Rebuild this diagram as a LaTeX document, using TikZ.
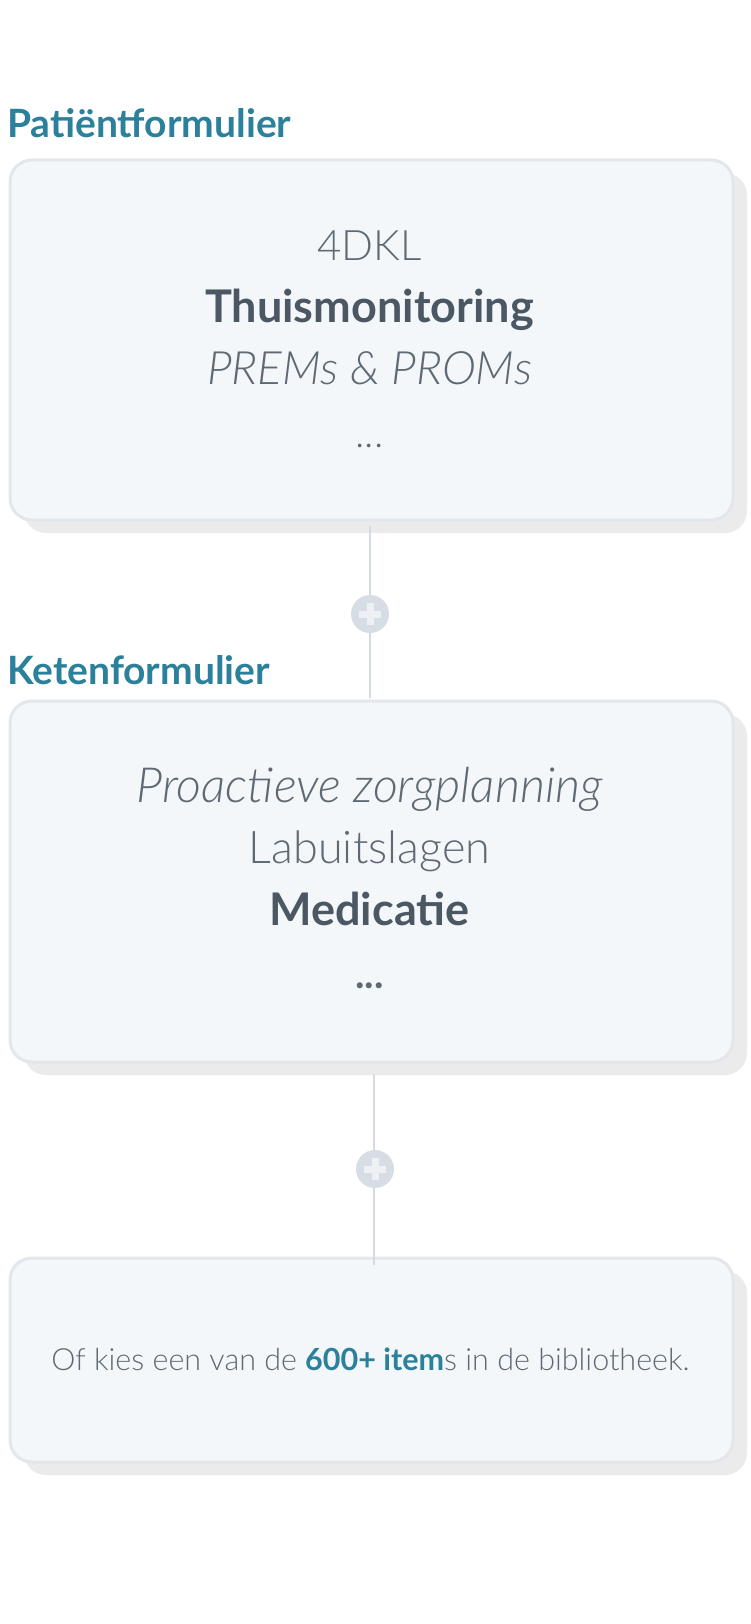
\documentclass[tikz,border=0pt]{standalone}
\usepackage{fontspec}
\setmainfont{Lato}[UprightFont={* Regular},BoldFont={* Bold}]
\newfontfamily\lightfont{Lato}[UprightFont={* Light},ItalicFont={* Light Italic},BoldFont={* Bold}]
\newfontfamily\dotfont{Lato}[UprightFont={* Light},BoldFont={* Bold}]
\usetikzlibrary{shadows}
\definecolor{teal}{HTML}{2B809C}
\definecolor{txt}{HTML}{4B5762}
\definecolor{txtlight}{HTML}{5E6973}
\definecolor{cardfill}{HTML}{F4F7FA}
\definecolor{cardborder}{HTML}{E3E7EB}
\definecolor{shadowgray}{HTML}{EBEBEB}
\definecolor{connc}{HTML}{D4DAE1}
\definecolor{plusbg}{HTML}{D6DDE4}
\definecolor{plusfg}{HTML}{EEF1F4}
\begin{document}
\begin{tikzpicture}[x=1pt,y=-1pt,
  card/.style={draw=cardborder, line width=3pt, fill=cardfill, rounded corners=22pt,
    minimum width=723pt, inner sep=0pt, anchor=north west,
    drop shadow={shadow xshift=14pt, shadow yshift=-13pt, fill=shadowgray, opacity=1, draw=none}},
  title/.style={anchor=base west, inner sep=0pt, text=teal, font=\fontsize{39}{44}\selectfont\bfseries},
  line/.style={anchor=base, inner sep=0pt, text=txtlight, font=\lightfont\fontsize{45}{52}\selectfont},
  iline/.style={line, font=\lightfont\fontsize{47}{54}\selectfont\itshape},
  bline/.style={anchor=base, inner sep=0pt, text=txt, font=\fontsize{45}{52}\selectfont\bfseries},
  dots/.style={anchor=base, inner sep=0pt, text=txtlight, font=\dotfont\fontsize{40}{48}\selectfont},
  conn/.style={draw=connc, line width=2pt},
  plus/.style={circle, fill=plusbg, minimum size=38pt, inner sep=0pt,
    path picture={\draw[plusfg, line width=7pt] (path picture bounding box.center) +(-11pt,0) -- +(11pt,0)
      (path picture bounding box.center) +(0,-11pt) -- +(0,11pt);}}
]
\useasboundingbox[fill=white] (0,0) rectangle (750,1624);

% titles
\node[title] (ttl1) at (7,138) {Patiëntformulier};
\node[title] (ttl2) at (7,684) {Ketenformulier};

% cards
\node[card, minimum height=360pt] (box1) at (8.5,158.5) {};
\node[card, minimum height=361pt] (box2) at (8.5,699.5) {};
\node[card, minimum height=204pt] (box3) at (8.5,1256.5) {};

% connectors
\coordinate (c1a) at (370,526);
\coordinate (c1b) at (370,698);
\coordinate (c2a) at (374,1074);
\coordinate (c2b) at (374,1265);
\draw[conn] (c1a) -- (c1b);
\draw[conn] (c2a) -- (c2b);
\node[plus] (plus1) at (370,614) {};
\node[plus] (plus2) at (375,1169) {};

% box 1 text
\node[line, font=\lightfont\fontsize{42}{50}\selectfont] (t11) at (369.5,260) {4DKL};
\node[bline] (t12) at (369.5,322) {Thuismonitoring};
\node[iline, font=\lightfont\fontsize{46}{54}\selectfont\itshape] (t13) at (369.5,384) {PREMs \& PROMs};
\node[dots] (t14) at (369.5,447) {...};

% box 2 text
\node[iline, font=\lightfont\fontsize{48.5}{56}\selectfont\itshape] (t21) at (369.5,802) {Proactieve zorgplanning};
\node[line] (t22) at (369.5,863) {Labuitslagen};
\node[bline] (t23) at (369.5,925) {Medicatie};
\node[dots, font=\dotfont\bfseries\fontsize{40}{48}\selectfont] (t24) at (369.5,988) {...};

% box 3 text
\node[line, font=\lightfont\fontsize{30.5}{36}\selectfont] (t31) at (370.5,1370)
  {Of kies een van de \textcolor{teal}{\bfseries 600+ item}s in de bibliotheek.};
\end{tikzpicture}
\end{document}
